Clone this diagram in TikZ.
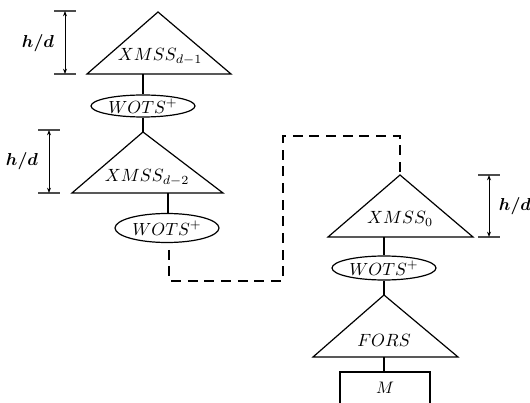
\documentclass[tikz,border=0pt]{standalone}
\usepackage{graphicx}
\usetikzlibrary{arrows.meta,shapes.geometric}
\newcommand{\wotslabel}{\scalebox{1.32}{$WOTS^{+}$}}
\begin{document}
\begin{tikzpicture}[x=0.75pt,y=-0.75pt,
  tri/.style={draw=black,line width=0.9pt,line join=miter},
  link/.style={draw=black,line width=0.9pt},
  wots/.style={draw=black,line width=0.9pt,ellipse,minimum width=104*0.75pt,minimum height=22*0.75pt,inner sep=0pt},
  hop/.style={draw=black,line width=2.2pt,dash pattern=on 7.5pt off 5pt,dash phase=7.5pt},
  tick/.style={draw=black!70,line width=0.9pt},
  span/.style={draw=black,line width=0.7pt,{Stealth[length=4pt,width=3pt]}-{Stealth[length=4pt,width=3pt]}},
  lbl/.style={scale=1.33,inner sep=0pt},
  dimlbl/.style={scale=1.3,font=\boldmath,inner sep=0pt}]
\useasboundingbox (0,0) rectangle (530,402);

% ---- layer d-1 ----
\coordinate (t1a) at (158,12);
\coordinate (t1l) at (87,74);
\coordinate (t1r) at (231,74);
\draw[tri] (t1a) -- (t1r) -- (t1l) -- cycle;
\node[lbl] (x1) at (160,57) {$XMSS_{d-1}$};
\coordinate (t1b) at (143,74);
\node[wots] (w1) at (143,106) {\wotslabel};

% ---- layer d-2 ----
\coordinate (t2a) at (143,132);
\coordinate (t2l) at (72,193);
\coordinate (t2r) at (223,193);
\draw[tri] (t2a) -- (t2r) -- (t2l) -- cycle;
\node[lbl] (x2) at (147,178) {$XMSS_{d-2}$};
\coordinate (t2b) at (168,193);
\node[wots,minimum height=29*0.75pt] (w2) at (167,228) {\wotslabel};

\draw[link] (t1b) -- (w1.north);
\draw[link] (w1.south) -- (t2a);
\draw[link] (t2b) -- (w2.north -| t2b);

% ---- layer 0 ----
\coordinate (t3a) at (400,175);
\coordinate (t3l) at (328,237);
\coordinate (t3r) at (473,237);
\draw[tri] (t3a) -- (t3r) -- (t3l) -- cycle;
\node[lbl] (x3) at (400,219) {$XMSS_{0}$};
\coordinate (t3b) at (384,237);
\node[wots,minimum height=24*0.75pt] (w3) at (384,268) {\wotslabel};

% ---- FORS ----
\coordinate (t4a) at (384,295);
\coordinate (t4l) at (313,357);
\coordinate (t4r) at (458,357);
\draw[tri] (t4a) -- (t4r) -- (t4l) -- cycle;
\node[lbl] (x4) at (384,340) {$FORS$};
\coordinate (mtop) at (384,372);
\draw[link] (340,405) -- (340,372) -- (430,372) -- (430,405);
\node[scale=1.25,inner sep=0pt] (m) at (385,388) {$M$};

\draw[link] (t3b) -- (w3.north);
\draw[link] (w3.south) -- (t4a);
\draw[link] (t4a |- t4l) -- (mtop);

% ---- dashed hop between layers ----
\coordinate (hb) at (169,281);
\coordinate (hl) at (283,136);
\draw[hop] (w2.south -| hb) -- (hb) -- (hb -| hl) -- (hl) -- (hl -| t3a) -- (t3a);

% ---- height markers ----
\draw[tick] (54,11) -- (76,11);
\draw[tick] (54,74) -- (76,74);
\coordinate (d1t) at (65,11);
\coordinate (d1b) at (65,74);
\draw[span] (d1t) -- (d1b);
\node[dimlbl] (h1) at (38,43) {$h/d$};

\draw[tick] (38,130) -- (60,130);
\draw[tick] (38,193) -- (60,193);
\coordinate (d2t) at (49,130);
\coordinate (d2b) at (49,193);
\draw[span] (d2t) -- (d2b);
\node[dimlbl] (h2) at (22,161) {$h/d$};

\draw[tick] (478,175) -- (500,175);
\draw[tick] (478,237) -- (500,237);
\coordinate (d3t) at (489,175);
\coordinate (d3b) at (489,237);
\draw[span] (d3t) -- (d3b);
\node[dimlbl] (h3) at (515,206) {$h/d$};
\end{tikzpicture}
\end{document}
